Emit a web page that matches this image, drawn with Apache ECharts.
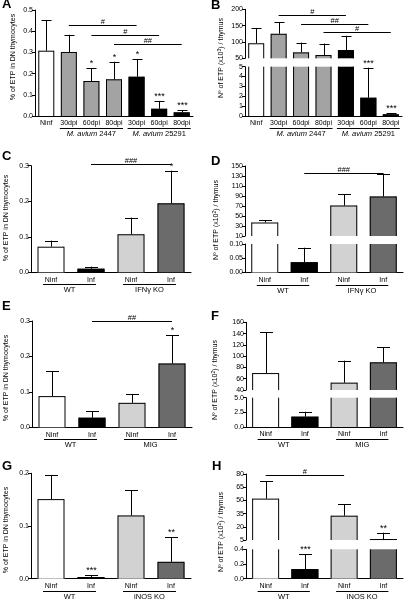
<!DOCTYPE html>
<html><head><meta charset="utf-8">
<script src="https://cdn.jsdelivr.net/npm/echarts@6/dist/echarts.min.js"></script>
<style>html,body{margin:0;padding:0;background:#fff}#c{width:405px;height:600px}</style>
</head><body><div id="c"></div>
<script>
// ---------- data ----------
const catsAB = ['Ninf','30dpi','60dpi','80dpi','30dpi','60dpi','80dpi'];
const catsCH = ['Ninf','Inf','Ninf','Inf'];

const aMean = [0.308,0.302,0.165,0.173,0.185,0.034,0.017];
const aErr  = [0.453,0.383,0.225,0.256,0.267,0.071,0.028];
const aStars = ['','','*','*','*','***','***'];
const aBrackets = [[1,4,0.429,'#'],[2,5,0.382,'#'],[3,6,0.340,'##']];

const bMean = [96,125,68,60,75,1.85,0.17];
const bErr  = [142,161,98,95,119,4.9,0.27];
const bStars = ['','','','','','***','***'];
const bBrackets = [[1,4,182.6,'#'],[2,5,155,'##'],[3,6,130.6,'#']];

const cMean = [0.072,0.010,0.107,0.194];
const cErr  = [0.089,0.016,0.154,0.286];
const cStars = ['','','','*'];
const cBrackets = [[1,3,0.305,'###']];

const dMean = [37,0.036,71,89];
const dErr  = [42,0.087,94,135];
const dStars = ['','','',''];
const dBrackets = [[1,3,135.4,'###']];

const eMean = [0.088,0.027,0.069,0.18];
const eErr  = [0.159,0.046,0.094,0.26];
const eStars = ['','','','*'];
const eBrackets = [[1,3,0.3,'##']];

const fMean = [70,1.76,53,89];
const fErr  = [142,2.6,92,116];
const fStars = ['','','',''];

const gMean = [0.151,0.003,0.12,0.032];
const gErr  = [0.197,0.0065,0.168,0.079];
const gStars = ['','***','','**'];

const hMean = [52,0.13,32.6,6.1];
const hErr  = [72,0.33,45.5,13.3];
const hStars = ['','***','','**'];
const hBrackets = [[0,2,78.9,'#']];

const groupsAB = [[1,3,'{i|M. avium} 2447'],[4,6,'{i|M. avium} 25291']];
const groupsC = [[0,1,'WT'],[2,3,'IFNγ KO']];
const groupsE = [[0,1,'WT'],[2,3,'MIG']];
const groupsG = [[0,1,'WT'],[2,3,'iNOS KO']];

const titlePct = '% of ETP in DN thymocytes';
const titleN3 = 'Nº of ETP (x10{sup|3}) / thymus';
const titleN2 = 'Nº of ETP (x10{sup|2}) / thymus';

// ---------- styles / layout ----------
const FONT = "'Liberation Sans', Arial, sans-serif";
const colorsAB = ['#ffffff','#a3a3a3','#a3a3a3','#a3a3a3','#000000','#000000','#000000'];
const colorsCH = ['#ffffff','#000000','#d2d2d2','#6b6b6b'];

const panels = [
 {letter:'A', lp:[2,4], title:titlePct, tp:[13,57], cats:catsAB, mean:aMean, err:aErr, stars:aStars, brackets:aBrackets, groups:groupsAB, colors:colorsAB, bw:16, cap:10, ul:[9,9],
  left:35, width:158, segs:[{top:10,h:106,min:0,max:0.5,iv:0.1,dec:1}]},
 {letter:'B', lp:[211,5], title:titleN3, tp:[221,58], cats:catsAB, mean:bMean, err:bErr, stars:bStars, brackets:bBrackets, groups:groupsAB, colors:colorsAB, bw:16, cap:10, ul:[9,9],
  left:245, width:157, segs:[{top:9.3,h:49,min:50,max:200,iv:50,dec:0},{top:66.7,h:49.3,min:0,max:5,iv:1,dec:0}]},
 {letter:'C', lp:[2,156], title:titlePct, tp:[6,218], cats:catsCH, mean:cMean, err:cErr, stars:cStars, brackets:cBrackets, groups:groupsC, colors:colorsCH, bw:27, cap:13, ul:[8,5],
  left:31, width:160, segs:[{top:165.7,h:106.6,min:0,max:0.3,iv:0.1,dec:1}]},
 {letter:'D', lp:[211,161.5], title:titleN2, tp:[216,220], cats:catsCH, mean:dMean, err:dErr, stars:dStars, brackets:dBrackets, groups:groupsC, colors:colorsCH, bw:27, cap:13, ul:[8,5],
  left:245, width:158, segs:[{top:166,h:70,min:10,max:150,iv:20,dec:0},{top:244,h:28.5,min:0,max:0.1,iv:0.05,dec:2}]},
 {letter:'E', lp:[2,306.5], title:titlePct, tp:[6,378], cats:catsCH, mean:eMean, err:eErr, stars:eStars, brackets:eBrackets, groups:groupsE, colors:colorsCH, bw:27, cap:13, ul:[8,5],
  left:32, width:160, segs:[{top:321,h:106.3,min:0,max:0.3,iv:0.1,dec:1}]},
 {letter:'F', lp:[211,316.5], title:titleN2, tp:[215,380], cats:catsCH, mean:fMean, err:fErr, stars:fStars, brackets:[], groups:groupsE, colors:colorsCH, bw:27, cap:13, ul:[8,5],
  left:246, width:157, segs:[{top:322.3,h:67.7,min:40,max:160,iv:20,dec:0},{top:397.7,h:29.3,min:0,max:5,iv:2.5,dec:1}]},
 {letter:'G', lp:[2,466.5], title:titlePct, tp:[6,530], cats:catsCH, mean:gMean, err:gErr, stars:gStars, brackets:[], groups:groupsG, colors:colorsCH, bw:27, cap:13, ul:[8,5],
  left:31, width:160, segs:[{top:473.3,h:105.4,min:0,max:0.2,iv:0.1,dec:1}]},
 {letter:'H', lp:[212,466.5], title:titleN2, tp:[221,532], cats:catsCH, mean:hMean, err:hErr, stars:hStars, brackets:hBrackets, groups:groupsG, colors:colorsCH, bw:27, cap:13, ul:[8,5],
  left:246, width:157, segs:[{top:474,h:66,min:5,max:80,iv:15,dec:0},{top:549.3,h:29.4,min:0,max:0.4,iv:0.2,dec:1}]}
];

function txtStyle(text, size, extra) {
  return Object.assign({text:text, fontSize:size, fontFamily:FONT, fill:'#000',
    align:'center', verticalAlign:'middle', textAlign:'center', textVerticalAlign:'middle'}, extra||{});
}
function ln(x1, y1, x2, y2) {
  return {type:'line', shape:{x1:x1, y1:y1, x2:x2, y2:y2}, style:{stroke:'#000', lineWidth:1}};
}

const option = {animation:false, backgroundColor:'#fff', grid:[], xAxis:[], yAxis:[], series:[], graphic:[]};

panels.forEach(p => {
  p.segs.forEach((s, si) => {
    const gi = option.grid.length;
    const isLower = si === p.segs.length - 1;
    const isUpper = si === 0;
    option.grid.push({left:p.left, top:s.top, width:p.width, height:s.h, containLabel:false, outerBoundsMode:'none'});
    option.xAxis.push({type:'category', gridIndex:gi, data:p.cats, show:isLower,
      axisLine:{show:true, lineStyle:{color:'#000', width:1}}, axisTick:{show:false},
      axisLabel:{interval:0, fontSize:7, fontFamily:FONT, color:'#000', margin:4}});
    option.yAxis.push({type:'value', gridIndex:gi, min:s.min, max:s.max, interval:s.iv,
      axisLine:{show:true, lineStyle:{color:'#000', width:1}},
      axisTick:{show:true, length:3, inside:false, lineStyle:{color:'#000'}},
      splitLine:{show:false},
      axisLabel:{fontSize:7, fontFamily:FONT, color:'#000', margin:2, formatter:v => Number(v).toFixed(s.dec)}});
    option.series.push({type:'bar', xAxisIndex:gi, yAxisIndex:gi, barWidth:p.bw, clip:true,
      data:p.mean.map((v,i) => ({value:v, itemStyle:{color:p.colors[i], borderWidth:0}}))});
    // bar outlines (open at axis breaks), error bars, stars
    option.series.push({type:'custom', xAxisIndex:gi, yAxisIndex:gi, clip:false, z:5,
      data:p.mean.map((v,i) => [i, v, p.err[i]]),
      renderItem:(params, api) => {
        const i = api.value(0), m = api.value(1), t = api.value(2);
        const ch = [];
        if (m > s.min) {
          const top = Math.min(m, s.max);
          const pb = api.coord([i, s.min]), pt = api.coord([i, top]);
          const xl = pb[0] - p.bw/2 + 0.5, xr = pb[0] + p.bw/2 - 0.5;
          ch.push(ln(xl, pb[1], xl, pt[1]), ln(xr, pb[1], xr, pt[1]));
          if (m <= s.max) ch.push(ln(xl, pt[1] + 0.5, xr, pt[1] + 0.5));
        }
        const a = Math.max(m, s.min), b = Math.min(t, s.max);
        if (b > a) {
          const p1 = api.coord([i, a]), p2 = api.coord([i, b]);
          const x = Math.round(p1[0]) + 0.5;
          ch.push(ln(x, p1[1], x, p2[1]));
          if (t <= s.max) {
            const y = Math.round(p2[1]) + 0.5;
            ch.push(ln(x - p.cap/2, y, x + p.cap/2, y));
            const st = p.stars[params.dataIndex];
            if (st) ch.push({type:'text', x:x, y:y - 5, style:txtStyle(st, 9)});
          }
        }
        return {type:'group', children:ch};
      }});
    if (isUpper && p.brackets.length) {
      option.series.push({type:'custom', xAxisIndex:gi, yAxisIndex:gi, clip:false, z:6,
        data:p.brackets.map(b => [b[0], b[2]]),
        renderItem:(params, api) => {
          const b = p.brackets[params.dataIndex];
          const q1 = api.coord([b[0], b[2]]), q2 = api.coord([b[1], b[2]]);
          const y = Math.round(q1[1]) + 0.5;
          return {type:'group', children:[
            ln(q1[0], y, q2[0], y),
            {type:'text', x:(q1[0]+q2[0])/2, y:y - 4, style:txtStyle(b[3], 7.5)}
          ]};
        }});
    }
    if (isLower) {
      option.series.push({type:'custom', xAxisIndex:gi, yAxisIndex:gi, clip:false, z:6,
        data:p.groups.map(g => [g[0], 0]),
        renderItem:(params, api) => {
          const g = p.groups[params.dataIndex];
          const q1 = api.coord([g[0], s.min]), q2 = api.coord([g[1], s.min]);
          const x1 = q1[0] - p.ul[0], x2 = q2[0] + p.ul[1];
          const y = Math.round(q1[1]) + 12.5;
          return {type:'group', children:[
            ln(x1, y, x2, y),
            {type:'text', x:(x1+x2)/2, y:y + 5.5, style:txtStyle(g[2], 7.5, {rich:{i:{fontStyle:'italic', fontSize:7.5, fontFamily:FONT, fill:'#000'}}})}
          ]};
        }});
    }
  });
  option.graphic.push({type:'text', x:p.lp[0], y:p.lp[1], style:{text:p.letter, fontSize:13, fontWeight:'bold', fontFamily:FONT, fill:'#000',
    align:'left', verticalAlign:'middle', textAlign:'left', textVerticalAlign:'middle'}});
  option.graphic.push({type:'text', x:p.tp[0], y:p.tp[1], rotation:Math.PI/2,
    style:txtStyle(p.title, 7, {rich:{sup:{fontSize:5, fontFamily:FONT, fill:'#000', verticalAlign:'top'}}})});
});

const chart = echarts.init(document.getElementById('c'), null, {renderer:'canvas'});
chart.setOption(option);
</script></body></html>
